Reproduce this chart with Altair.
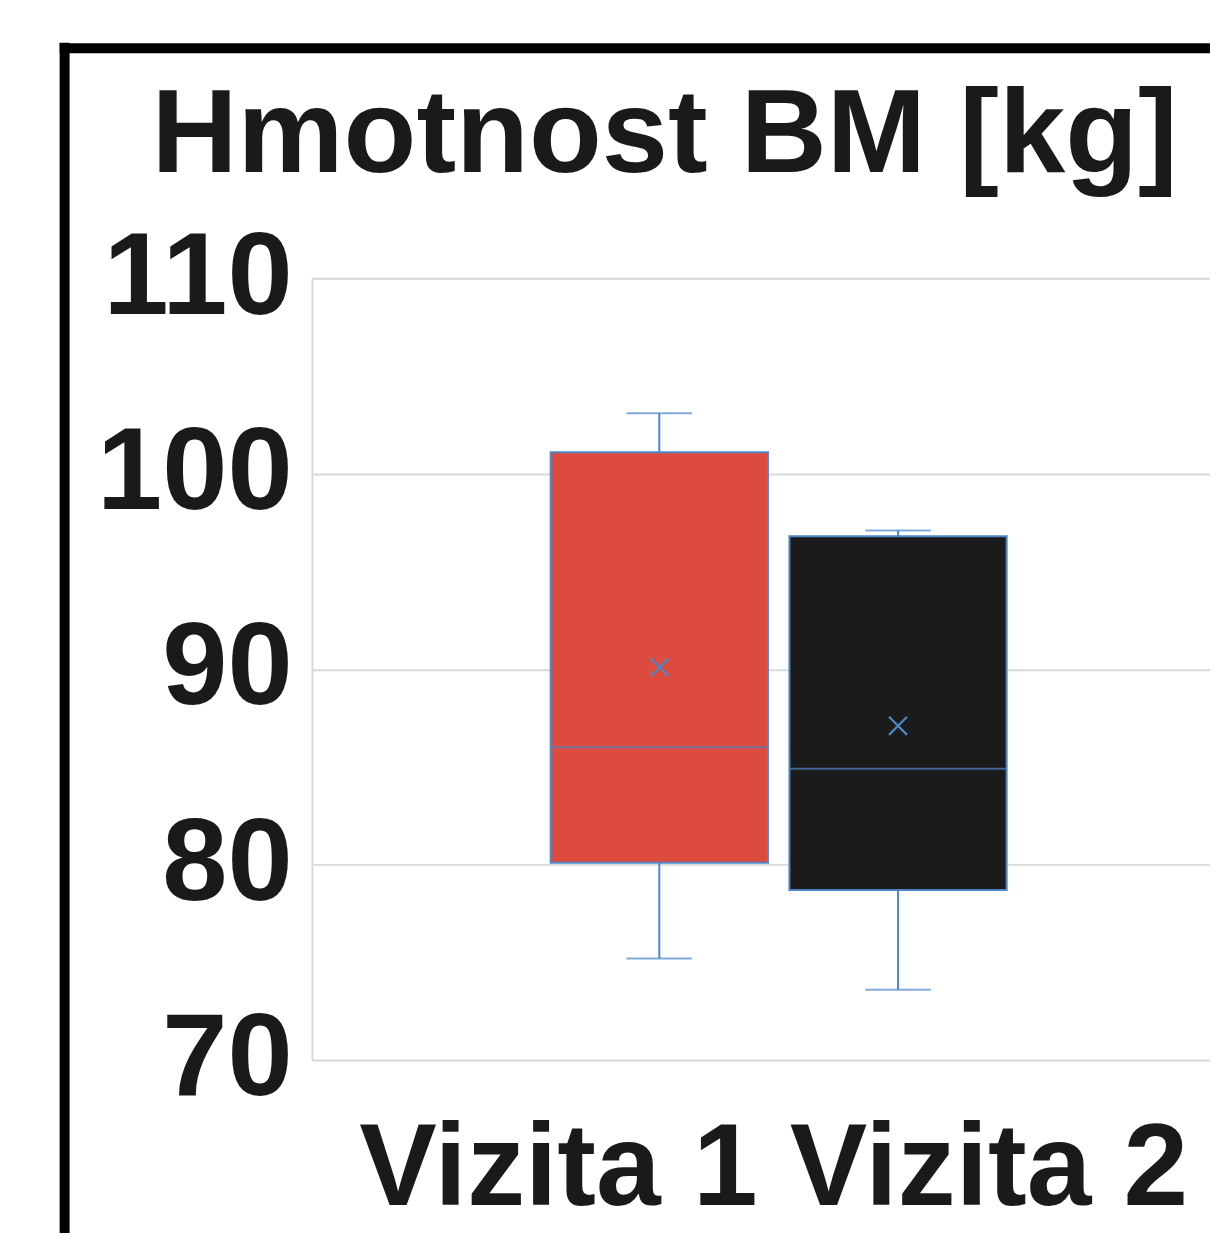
import altair as alt
import pandas as pd

# ---- data ----
visits = ["Vizita 1", "Vizita 2"]
group_label = "Vizita 1 Vizita 2"
whisker_low = [75.2, 73.6]
q1 = [80.1, 78.7]
median = [86.0, 84.9]
q3 = [101.1, 96.8]
whisker_high = [103.1, 97.1]
means = [90.1, 87.1]
fills = ["#dc4b3e", "#1b1b1b"]
y_ticks = [70, 80, 90, 100, 110]
title_text = "Hmotnost BM [kg]"

df = pd.DataFrame({
    "group": [group_label] * len(visits),
    "visit": visits,
    "lo": whisker_low,
    "q1": q1,
    "med": median,
    "q3": q3,
    "hi": whisker_high,
    "mean": means,
})

FONT = "Liberation Sans"
BLUE = "#4f86c6"
TXT = "#1a1a1a"

x_enc = alt.X(
    "group:N",
    scale=alt.Scale(paddingInner=0, paddingOuter=0.4847, align=0.54),
    axis=alt.Axis(
        title=None, ticks=False, domain=False, labelAngle=0,
        labelFont=FONT, labelFontSize=117, labelFontWeight="bold",
        labelColor=TXT, labelPadding=53, labelLimit=0, labelOffset=-5,
    ),
)
xo_enc = alt.XOffset("visit:N", sort=visits,
                     scale=alt.Scale(paddingInner=0.09, paddingOuter=0))
y_scale = alt.Scale(domain=[70, 110], nice=False, zero=False)
y_axis = alt.Axis(
    title=None, values=y_ticks, ticks=False, domain=True,
    domainColor="#d9d9d9", domainWidth=2,
    grid=True, gridColor="#d9d9d9", gridWidth=2,
    labelFont=FONT, labelFontSize=118, labelFontWeight="bold",
    labelColor=TXT, labelPadding=20, labelLimit=0,
)
color_enc = alt.Color("visit:N", scale=alt.Scale(domain=visits, range=fills), legend=None)

base = alt.Chart(df)

boxes = base.mark_bar(stroke=BLUE, strokeWidth=2).encode(
    x=x_enc, xOffset=xo_enc,
    y=alt.Y("q1:Q", scale=y_scale, axis=y_axis),
    y2="q3:Q",
    color=color_enc,
)
med_line = base.mark_tick(size=219, thickness=2, color=BLUE).encode(
    x=x_enc, xOffset=xo_enc, y=alt.Y("med:Q", scale=y_scale),
)
whisk_low = base.mark_rule(color=BLUE, strokeWidth=2).encode(
    x=x_enc, xOffset=xo_enc, y=alt.Y("lo:Q", scale=y_scale), y2="q1:Q",
)
whisk_high = base.mark_rule(color=BLUE, strokeWidth=2).encode(
    x=x_enc, xOffset=xo_enc, y=alt.Y("q3:Q", scale=y_scale), y2="hi:Q",
)
cap_low = base.mark_tick(size=66, thickness=2, color=BLUE).encode(
    x=x_enc, xOffset=xo_enc, y=alt.Y("lo:Q", scale=y_scale),
)
cap_high = base.mark_tick(size=66, thickness=2, color=BLUE).encode(
    x=x_enc, xOffset=xo_enc, y=alt.Y("hi:Q", scale=y_scale),
)
mean_mark = base.mark_point(
    shape="M-1,-1L1,1M-1,1L1,-1", filled=False, stroke=BLUE,
    strokeWidth=2.2, size=330, opacity=1,
).encode(
    x=x_enc, xOffset=xo_enc, y=alt.Y("mean:Q", scale=y_scale),
)

single = alt.Data(values=[{"k": 1}])

# chart title, placed over the chart area as in the reference
title_mark = alt.Chart(single).mark_text(
    font=FONT, fontSize=120, fontWeight="bold", color=TXT,
    align="center", baseline="alphabetic",
).encode(
    text=alt.value(title_text), x=alt.value(355), y=alt.value(-107),
)

# decorative chart-area frame (black border seen at top/left of the picture)
frame_left = alt.Chart(single).mark_rule(color="black", strokeWidth=10, strokeCap="butt").encode(
    x=alt.value(-249), y=alt.value(-237), y2=alt.value(1000),
)
frame_top = alt.Chart(single).mark_rule(color="black", strokeWidth=10, strokeCap="butt").encode(
    x=alt.value(-254), x2=alt.value(920), y=alt.value(-231.5),
)

chart = alt.layer(
    boxes, med_line, whisk_low, whisk_high, cap_low, cap_high, mean_mark,
    title_mark, frame_left, frame_top,
).properties(
    width=904,
    height=787,
    autosize=alt.AutoSizeParams(type="none"),
    padding={"left": 306, "top": 268, "right": 0, "bottom": 170},
).configure_view(stroke=None).configure(background="white")

chart.save("out.html", embed_options={"renderer": "svg", "actions": False})
